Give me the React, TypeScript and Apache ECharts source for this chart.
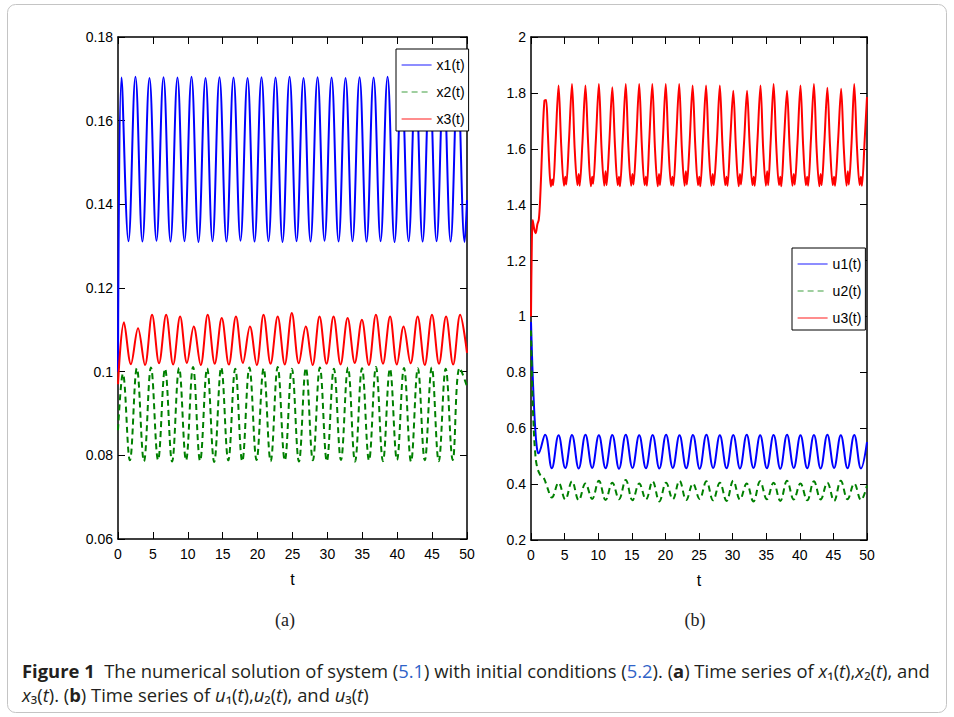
import React, { useEffect, useRef } from 'react';
import * as echarts from 'echarts';

// ---------- data ----------
const T_TICKS_MIN = 0;
const T_TICKS_MAX = 50;
const T_TICK_STEP = 5;

const X_AXIS_MIN = 0.06;
const X_AXIS_MAX = 0.18;
const X_AXIS_STEP = 0.02;

const U_AXIS_MIN = 0.2;
const U_AXIS_MAX = 2;
const U_AXIS_STEP = 0.2;

const LEFT_NAMES = ['x1(t)', 'x2(t)', 'x3(t)'];
const RIGHT_NAMES = ['u1(t)', 'u2(t)', 'u3(t)'];

const X1 = [
  [0, 0.100],
  [0.5, 0.1703], [1.5, 0.1312],
  [2.5, 0.1705], [3.5, 0.1311],
  [4.51, 0.1702], [5.51, 0.1313],
  [6.52, 0.1704], [7.52, 0.1311],
  [8.52, 0.1703], [9.52, 0.1312],
  [10.53, 0.1705], [11.53, 0.1310],
  [12.54, 0.1702], [13.54, 0.1312],
  [14.54, 0.1704], [15.54, 0.1311],
  [16.55, 0.1703], [17.55, 0.1313],
  [18.56, 0.1702], [19.56, 0.1311],
  [20.56, 0.1704], [21.56, 0.1312],
  [22.57, 0.1703], [23.57, 0.1310],
  [24.58, 0.1705], [25.58, 0.1312],
  [26.58, 0.1702], [27.58, 0.1311],
  [28.59, 0.1704], [29.59, 0.1313],
  [30.6, 0.1703], [31.6, 0.1311],
  [32.6, 0.1702], [33.6, 0.1312],
  [34.61, 0.1704], [35.61, 0.1311],
  [36.62, 0.1703], [37.62, 0.1312],
  [38.62, 0.1705], [39.62, 0.1310],
  [40.63, 0.1703], [41.63, 0.1312],
  [42.64, 0.1702], [43.64, 0.1311],
  [44.64, 0.1704], [45.64, 0.1312],
  [46.65, 0.1703], [47.65, 0.1311],
  [48.66, 0.1702], [49.66, 0.1310],
  [50, 0.141],
];

const X2 = [
  [0, 0.086], [0.7, 0.0995],
  [1.7, 0.0788], [2.7, 0.1008],
  [3.72, 0.0786], [4.72, 0.1010],
  [5.74, 0.0789], [6.74, 0.1007],
  [7.75, 0.0785], [8.75, 0.1009],
  [9.75, 0.0788], [10.75, 0.1011],
  [11.76, 0.0787], [12.77, 0.1008],
  [13.78, 0.0784], [14.79, 0.1010],
  [15.8, 0.0788], [16.8, 0.1007],
  [17.8, 0.0786], [18.82, 0.1010],
  [19.85, 0.0789], [20.86, 0.1008],
  [21.87, 0.0786], [22.88, 0.1011],
  [23.9, 0.0788], [24.91, 0.1007],
  [25.92, 0.0785], [26.92, 0.1009],
  [27.92, 0.0788], [28.92, 0.1010],
  [29.92, 0.0786], [30.93, 0.1007],
  [31.94, 0.0789], [32.95, 0.1010],
  [33.96, 0.0785], [34.96, 0.1008],
  [35.96, 0.0788], [36.96, 0.1011],
  [37.96, 0.0786], [38.96, 0.1007],
  [39.97, 0.0789], [40.97, 0.1009],
  [41.98, 0.0785], [42.96, 0.1008],
  [43.95, 0.0788], [44.95, 0.1010],
  [45.95, 0.0786], [46.95, 0.1007],
  [47.96, 0.0789], [48.96, 0.1009],
  [50, 0.0965],
];

const X3 = [
  [0, 0.097], [0.85, 0.1118],
  [1.85, 0.1018], [2.87, 0.1104],
  [3.87, 0.1016], [4.88, 0.1136],
  [5.88, 0.1020], [6.9, 0.1136],
  [7.9, 0.1017], [8.9, 0.1132],
  [9.88, 0.1021], [10.85, 0.1108],
  [11.85, 0.1016], [12.85, 0.1136],
  [13.86, 0.1019], [14.86, 0.1128],
  [15.88, 0.1017], [16.9, 0.1132],
  [17.9, 0.1021], [18.9, 0.1108],
  [19.88, 0.1016], [20.85, 0.1136],
  [21.86, 0.1019], [22.88, 0.1132],
  [23.89, 0.1017], [24.9, 0.1140],
  [25.9, 0.1020], [26.9, 0.1108],
  [27.88, 0.1016], [28.87, 0.1132],
  [29.88, 0.1019], [30.88, 0.1132],
  [31.89, 0.1017], [32.9, 0.1128],
  [33.92, 0.1021], [34.94, 0.1124],
  [35.94, 0.1016], [36.95, 0.1136],
  [37.96, 0.1019], [38.98, 0.1132],
  [39.95, 0.1017], [40.92, 0.1108],
  [41.92, 0.1020], [42.93, 0.1132],
  [43.95, 0.1016], [44.98, 0.1136],
  [45.99, 0.1019], [47.0, 0.1132],
  [48.01, 0.1017], [49.02, 0.1136],
  [50, 0.1045],
];

const U1 = [
  [0, 0.98], [0.15, 0.86], [0.35, 0.73], [0.6, 0.61], [0.85, 0.535], [1.1, 0.51],
  [2.1, 0.577], [3.1, 0.457],
  [4.1, 0.575], [5.1, 0.458],
  [6.1, 0.576], [7.1, 0.456],
  [8.1, 0.577], [9.1, 0.458],
  [10.1, 0.575], [11.1, 0.457],
  [12.1, 0.576], [13.1, 0.455],
  [14.1, 0.577], [15.1, 0.458],
  [16.1, 0.575], [17.1, 0.457],
  [18.1, 0.576], [19.1, 0.456],
  [20.1, 0.577], [21.1, 0.458],
  [22.1, 0.575], [23.1, 0.457],
  [24.1, 0.576], [25.1, 0.455],
  [26.1, 0.577], [27.1, 0.458],
  [28.1, 0.575], [29.1, 0.457],
  [30.1, 0.576], [31.1, 0.456],
  [32.1, 0.577], [33.1, 0.458],
  [34.1, 0.575], [35.1, 0.457],
  [36.1, 0.576], [37.1, 0.455],
  [38.1, 0.577], [39.1, 0.458],
  [40.1, 0.575], [41.1, 0.457],
  [42.1, 0.576], [43.1, 0.456],
  [44.1, 0.577], [45.1, 0.458],
  [46.1, 0.575], [47.1, 0.457],
  [48.1, 0.576], [49.1, 0.456],
  [50, 0.55],
];

const U2 = [
  [0, 0.95], [0.15, 0.78], [0.35, 0.63], [0.6, 0.52], [0.9, 0.462], [1.4, 0.432],
  [1.9, 0.422], [2.4, 0.39], [3.1, 0.352],
  [4.1, 0.405], [5.1, 0.345],
  [6.1, 0.41], [7.1, 0.342],
  [8.1, 0.402], [9.1, 0.347],
  [10.1, 0.412], [11.1, 0.343],
  [12.1, 0.405], [13.1, 0.346],
  [14.1, 0.415], [15.1, 0.342],
  [16.1, 0.402], [17.1, 0.345],
  [18.1, 0.41], [19.1, 0.338],
  [20.1, 0.405], [21.1, 0.346],
  [22.1, 0.412], [23.1, 0.343],
  [24.1, 0.402], [25.1, 0.347],
  [26.1, 0.41], [27.1, 0.342],
  [28.1, 0.405], [29.1, 0.34],
  [30.1, 0.412], [31.1, 0.345],
  [32.1, 0.402], [33.1, 0.338],
  [34.1, 0.41], [35.1, 0.346],
  [36.1, 0.405], [37.1, 0.34],
  [38.1, 0.412], [39.1, 0.345],
  [40.1, 0.402], [41.1, 0.342],
  [42.1, 0.41], [43.1, 0.345],
  [44.1, 0.405], [45.1, 0.34],
  [46.1, 0.412], [47.1, 0.346],
  [48.1, 0.402], [49.1, 0.343],
  [50, 0.395],
];

const U3 = [
  [0, 1.0], [0.1, 1.22], [0.25, 1.345], [0.5, 1.31], [0.7, 1.298], [0.95, 1.33], [1.15, 1.345],
  [1.3, 1.39], [1.5, 1.50], [1.7, 1.63], [2.0, 1.772], [2.25, 1.775], [2.5, 1.66], [2.7, 1.55],
  [2.95, 1.465], [3.15, 1.49], [3.3, 1.47], [3.65, 1.62],
  [4.1, 1.826], [4.5, 1.61], [4.9, 1.468], [5.1, 1.50], [5.25, 1.472], [5.65, 1.63],
  [6.1, 1.832], [6.5, 1.60], [6.9, 1.47], [7.1, 1.51], [7.25, 1.468], [7.65, 1.62],
  [8.1, 1.826], [8.5, 1.62], [8.9, 1.466], [9.1, 1.50], [9.25, 1.475], [9.65, 1.63],
  [10.1, 1.832], [10.5, 1.60], [10.9, 1.468], [11.1, 1.52], [11.25, 1.47], [11.65, 1.62],
  [12.1, 1.82], [12.5, 1.61], [12.9, 1.47], [13.1, 1.50], [13.25, 1.466], [13.65, 1.63],
  [14.1, 1.832], [14.5, 1.60], [14.9, 1.468], [15.1, 1.51], [15.25, 1.472], [15.65, 1.62],
  [16.1, 1.832], [16.5, 1.61], [16.9, 1.47], [17.1, 1.50], [17.25, 1.468], [17.6, 1.63],
  [18.05, 1.832], [18.45, 1.60], [18.85, 1.466], [19.05, 1.51], [19.2, 1.47], [19.6, 1.62],
  [20.05, 1.832], [20.45, 1.61], [20.85, 1.47], [21.05, 1.50], [21.2, 1.468], [21.6, 1.63],
  [22.05, 1.832], [22.45, 1.60], [22.85, 1.468], [23.05, 1.52], [23.2, 1.472], [23.6, 1.62],
  [24.05, 1.826], [24.45, 1.61], [24.85, 1.47], [25.05, 1.50], [25.2, 1.466], [25.6, 1.63],
  [26.05, 1.826], [26.45, 1.60], [26.85, 1.468], [27.05, 1.51], [27.2, 1.47], [27.65, 1.62],
  [28.1, 1.826], [28.5, 1.61], [28.9, 1.47], [29.1, 1.50], [29.25, 1.468], [29.65, 1.63],
  [30.1, 1.808], [30.5, 1.60], [30.9, 1.466], [31.1, 1.51], [31.25, 1.472], [31.7, 1.62],
  [32.15, 1.808], [32.55, 1.61], [32.95, 1.47], [33.15, 1.50], [33.3, 1.468], [33.7, 1.63],
  [34.15, 1.826], [34.55, 1.60], [34.95, 1.468], [35.15, 1.52], [35.3, 1.47], [35.65, 1.62],
  [36.1, 1.832], [36.5, 1.61], [36.9, 1.47], [37.1, 1.50], [37.25, 1.466], [37.65, 1.63],
  [38.1, 1.808], [38.5, 1.60], [38.9, 1.468], [39.1, 1.51], [39.25, 1.472], [39.65, 1.62],
  [40.1, 1.826], [40.5, 1.61], [40.9, 1.47], [41.1, 1.50], [41.25, 1.468], [41.65, 1.63],
  [42.1, 1.832], [42.5, 1.60], [42.9, 1.466], [43.1, 1.51], [43.25, 1.47], [43.65, 1.62],
  [44.1, 1.818], [44.5, 1.61], [44.9, 1.47], [45.1, 1.50], [45.25, 1.468], [45.7, 1.63],
  [46.15, 1.815], [46.55, 1.60], [46.95, 1.468], [47.15, 1.52], [47.3, 1.472], [47.7, 1.62],
  [48.1, 1.832], [48.5, 1.61], [48.9, 1.47], [49.1, 1.50], [49.25, 1.468], [49.65, 1.63],
  [50, 1.785],
];

// ---------- styles ----------
const NARROW = '"Liberation Sans Narrow", "Arial Narrow", "Liberation Sans", sans-serif';
const BLUE = '#0000ff';
const GREEN = '#008000';
const RED = '#ff0000';

function axesFor(gridIndex: number, yMin: number, yMax: number, yStep: number) {
  const line = { show: true, onZero: false, lineStyle: { color: '#000', width: 1.5 } };
  const tick = { show: true, inside: true, length: 7, lineStyle: { color: '#000', width: 1 } };
  const lbl = { fontFamily: NARROW, fontSize: 14, color: '#000' };
  const xBottom = {
    type: 'value', gridIndex, position: 'bottom', min: T_TICKS_MIN, max: T_TICKS_MAX, interval: T_TICK_STEP,
    axisLine: line, axisTick: tick, splitLine: { show: false },
    axisLabel: { ...lbl, margin: 8 },
    name: 't', nameLocation: 'middle', nameGap: 32,
    nameTextStyle: { fontFamily: NARROW, fontSize: 16, color: '#000' },
  };
  const xTop = {
    type: 'value', gridIndex, position: 'top', min: T_TICKS_MIN, max: T_TICKS_MAX, interval: T_TICK_STEP,
    axisLine: line, axisTick: tick, splitLine: { show: false }, axisLabel: { show: false },
  };
  const yLeft = {
    type: 'value', gridIndex, position: 'left', min: yMin, max: yMax, interval: yStep,
    axisLine: line, axisTick: tick, splitLine: { show: false },
    axisLabel: { ...lbl, margin: 5 },
  };
  const yRight = {
    type: 'value', gridIndex, position: 'right', min: yMin, max: yMax, interval: yStep,
    axisLine: line, axisTick: tick, splitLine: { show: false }, axisLabel: { show: false },
  };
  return { x: [xBottom, xTop], y: [yLeft, yRight] };
}

function lineSeries(name: string, data: number[][], xi: number, yi: number, color: string, dashed: boolean, smooth: number) {
  return {
    type: 'line', name, data, xAxisIndex: xi, yAxisIndex: yi,
    symbol: 'none', showSymbol: false, smooth,
    lineStyle: { color, width: 2, type: dashed ? [6, 4] : 'solid' },
    itemStyle: { color },
    emphasis: { disabled: true },
  };
}

function legendFor(names: string[], left: number, top: number) {
  return {
    data: names, orient: 'vertical', left, top, selectedMode: false,
    itemWidth: 30, itemHeight: 14, itemGap: 13,
    padding: [9, 4, 5, 5],
    borderColor: '#000', borderWidth: 1, backgroundColor: '#fff',
    itemStyle: { opacity: 0 },
    lineStyle: { width: 1.2, opacity: 0.75 },
    textStyle: { fontFamily: NARROW, fontSize: 14, color: '#000', lineHeight: 14 },
  };
}

const CAPTION_FONT = '"Open Sans", "Noto Sans", sans-serif';
const CAPTION_LINE1 =
  '{b|Figure 1}  The numerical solution of system ({l|5.1}) with initial conditions ({l|5.2}). ({b|a}) Time series of {i|x}₁({i|t}),{i|x}₂({i|t}), and';
const CAPTION_LINE2 = '{i|x}₃({i|t}). ({b|b}) Time series of {i|u}₁({i|t}),{i|u}₂({i|t}), and {i|u}₃({i|t})';

export default function App() {
  const ref = useRef<HTMLDivElement>(null);

  useEffect(() => {
    if (!ref.current) return;
    const chart = echarts.init(ref.current, null, { renderer: 'svg' });
    const a = axesFor(0, X_AXIS_MIN, X_AXIS_MAX, X_AXIS_STEP);
    const b = axesFor(1, U_AXIS_MIN, U_AXIS_MAX, U_AXIS_STEP);
    const capSize = 18.4;

    const option: any = {
      animation: false,
      backgroundColor: '#fff',
      grid: [
        { left: 118, top: 37, width: 349, height: 502, containLabel: false },
        { left: 531, top: 37, width: 336, height: 503, containLabel: false },
      ],
      xAxis: [a.x[0], a.x[1], b.x[0], b.x[1]],
      yAxis: [a.y[0], a.y[1], b.y[0], b.y[1]],
      legend: [legendFor(LEFT_NAMES, 396, 49), legendFor(RIGHT_NAMES, 792, 248)],
      series: [
        lineSeries(LEFT_NAMES[0], X1, 0, 0, BLUE, false, 0.4),
        lineSeries(LEFT_NAMES[1], X2, 0, 0, GREEN, true, 0.4),
        lineSeries(LEFT_NAMES[2], X3, 0, 0, RED, false, 0.35),
        lineSeries(RIGHT_NAMES[0], U1, 2, 2, BLUE, false, 0.4),
        lineSeries(RIGHT_NAMES[1], U2, 2, 2, GREEN, true, 0.4),
        lineSeries(RIGHT_NAMES[2], U3, 2, 2, RED, false, 0.3),
      ],
      graphic: [
        {
          type: 'rect', silent: true, z: -10,
          shape: { x: 7.5, y: 4.5, width: 939, height: 708, r: 8 },
          style: { fill: 'none', stroke: '#c4c4c4', lineWidth: 1 },
        },
        {
          type: 'text', x: 285, y: 620, silent: true,
          style: { text: '(a)', fontFamily: '"Liberation Serif", "DejaVu Serif", serif', fontSize: 18, fill: '#222', align: 'center', verticalAlign: 'middle' },
        },
        {
          type: 'text', x: 695, y: 620, silent: true,
          style: { text: '(b)', fontFamily: '"Liberation Serif", "DejaVu Serif", serif', fontSize: 18, fill: '#222', align: 'center', verticalAlign: 'middle' },
        },
        {
          type: 'text', x: 22, y: 658, silent: true,
          style: {
            text: CAPTION_LINE1 + '\n' + CAPTION_LINE2,
            fontFamily: CAPTION_FONT, fontSize: capSize, fill: '#231f20', lineHeight: 24,
            align: 'left', verticalAlign: 'top',
            rich: {
              b: { fontFamily: CAPTION_FONT, fontSize: capSize, fontWeight: 'bold', fill: '#231f20', lineHeight: 24 },
              l: { fontFamily: CAPTION_FONT, fontSize: capSize, fill: '#2f63c8', lineHeight: 24 },
              i: { fontFamily: CAPTION_FONT, fontSize: capSize, fontStyle: 'italic', fill: '#231f20', lineHeight: 24 },
            },
          },
        },
      ],
    };
    chart.setOption(option);
    return () => chart.dispose();
  }, []);

  return (
    <div
      ref={ref}
      style={{ position: 'absolute', left: 0, top: 0, width: 954, height: 717, background: '#fff' }}
    />
  );
}
